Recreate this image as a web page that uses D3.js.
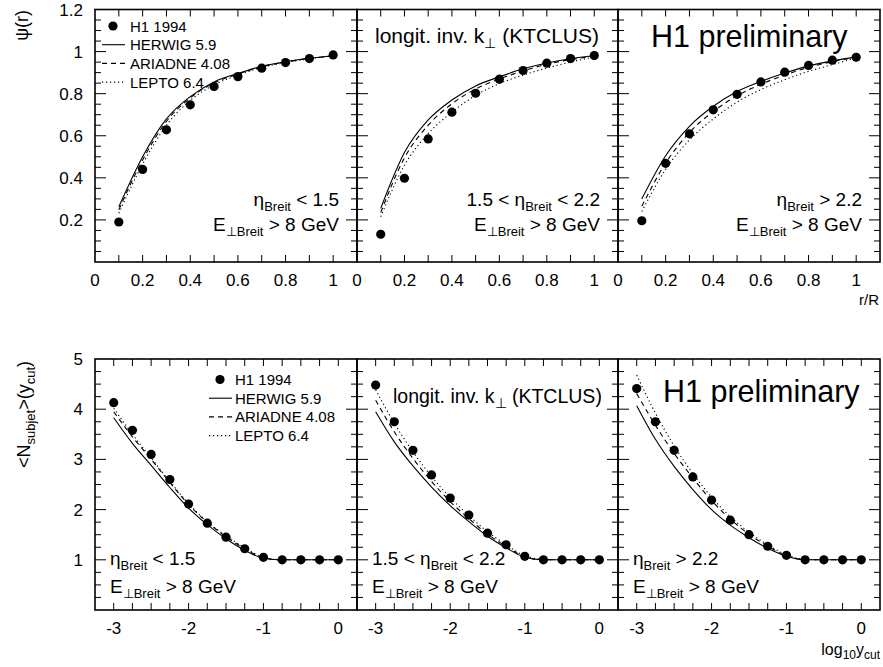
<!DOCTYPE html>
<html>
<head>
<meta charset="utf-8">
<script src="https://cdn.jsdelivr.net/npm/d3@7"></script>
<style>
  body { margin: 0; background: #fff; }
  svg { font-family: "Liberation Sans", Arial, sans-serif; }
</style>
</head>
<body>
<svg id="chart" width="883" height="667"></svg>
<script>
// r/R points and log10(ycut) points
const rValues = [0.1, 0.2, 0.3, 0.4, 0.5, 0.6, 0.7, 0.8, 0.9, 1.0];
const yCutValues = [-3, -2.75, -2.5, -2.25, -2, -1.75, -1.5, -1.25, -1, -0.75, -0.5, -0.25, 0];

// psi(r), three eta bins
const psiData = [
  [0.19, 0.44, 0.628, 0.747, 0.834, 0.881, 0.921, 0.948, 0.967, 0.984],
  [0.132, 0.398, 0.585, 0.712, 0.802, 0.869, 0.91, 0.945, 0.967, 0.981],
  [0.196, 0.469, 0.609, 0.723, 0.797, 0.856, 0.902, 0.934, 0.959, 0.973]
];
const psiHerwig = [
  [0.262, 0.50, 0.68, 0.786, 0.856, 0.896, 0.93, 0.952, 0.968, 0.98],
  [0.255, 0.52, 0.675, 0.77, 0.837, 0.88, 0.918, 0.946, 0.966, 0.98],
  [0.30, 0.505, 0.645, 0.74, 0.81, 0.858, 0.898, 0.932, 0.956, 0.975]
];
const psiAriadne = [
  [0.248, 0.485, 0.668, 0.78, 0.851, 0.893, 0.928, 0.95, 0.967, 0.98],
  [0.235, 0.495, 0.65, 0.752, 0.822, 0.87, 0.908, 0.94, 0.962, 0.978],
  [0.265, 0.47, 0.615, 0.715, 0.79, 0.845, 0.888, 0.925, 0.952, 0.973]
];
const psiLepto = [
  [0.232, 0.465, 0.65, 0.768, 0.842, 0.888, 0.924, 0.948, 0.966, 0.979],
  [0.215, 0.46, 0.61, 0.712, 0.792, 0.848, 0.888, 0.922, 0.95, 0.975],
  [0.24, 0.44, 0.58, 0.68, 0.76, 0.82, 0.866, 0.906, 0.938, 0.97]
];

// <N_subjet>(ycut), three eta bins
const nsubData = [
  [4.13, 3.58, 3.10, 2.60, 2.11, 1.73, 1.45, 1.22, 1.05, 1.0, 1.0, 1.0, 1.0],
  [4.48, 3.75, 3.18, 2.69, 2.23, 1.89, 1.53, 1.30, 1.07, 1.0, 1.0, 1.0, 1.0],
  [4.41, 3.75, 3.18, 2.65, 2.19, 1.79, 1.50, 1.27, 1.09, 1.0, 1.0, 1.0, 1.0]
];
const nsubHerwig = [
  [3.83, 3.32, 2.88, 2.44, 2.03, 1.70, 1.42, 1.19, 1.03, 1.0, 1.0, 1.0, 1.0],
  [3.95, 3.35, 2.87, 2.45, 2.08, 1.76, 1.47, 1.24, 1.05, 1.0, 1.0, 1.0, 1.0],
  [4.07, 3.40, 2.86, 2.40, 2.0, 1.69, 1.44, 1.23, 1.07, 1.0, 1.0, 1.0, 1.0]
];
const nsubAriadne = [
  [3.95, 3.45, 3.0, 2.54, 2.1, 1.75, 1.46, 1.22, 1.04, 1.0, 1.0, 1.0, 1.0],
  [4.18, 3.55, 3.02, 2.56, 2.16, 1.82, 1.51, 1.27, 1.06, 1.0, 1.0, 1.0, 1.0],
  [4.31, 3.68, 3.12, 2.63, 2.18, 1.81, 1.51, 1.27, 1.08, 1.0, 1.0, 1.0, 1.0]
];
const nsubLepto = [
  [4.02, 3.50, 3.03, 2.56, 2.12, 1.76, 1.48, 1.24, 1.05, 1.0, 1.0, 1.0, 1.0],
  [4.39, 3.72, 3.15, 2.66, 2.24, 1.88, 1.56, 1.30, 1.08, 1.01, 1.0, 1.0, 1.0],
  [4.68, 3.92, 3.27, 2.72, 2.25, 1.86, 1.55, 1.30, 1.10, 1.01, 1.0, 1.0, 1.0]
];

const legendLabels = ["H1 1994", "HERWIG 5.9", "ARIADNE 4.08", "LEPTO 6.4"];
const etaCuts = [
  [{ t: "η" }, { t: "Breit", sub: true }, { t: " < 1.5" }],
  [{ t: "1.5 < η" }, { t: "Breit", sub: true }, { t: " < 2.2" }],
  [{ t: "η" }, { t: "Breit", sub: true }, { t: " > 2.2" }]
];
const etCut = [{ t: "E" }, { t: "⊥Breit", sub: true }, { t: " > 8 GeV" }];
const algoLabel = [{ t: "longit. inv. k" }, { t: "⊥", sub: true }, { t: " (KTCLUS)" }];

const psiTicks = [0.2, 0.4, 0.6, 0.8, 1, 1.2];
const rTicks = [0, 0.2, 0.4, 0.6, 0.8, 1];
const nsubTicks = [1, 2, 3, 4, 5];
const yCutTicks = [-3, -2, -1, 0];

const svg = d3.select("#chart");
const panelX = [95, 357, 618, 880];
const mcStyles = [
  { dash: null },
  { dash: "5,4" },
  { dash: "1.2,2.8" }
];

// text with subscript runs
function richText(sel, parts, size, subSize) {
  const shift = size * 0.25;
  let lowered = false;
  parts.forEach(p => {
    const ts = sel.append("tspan").text(p.t);
    if (p.sub) {
      ts.attr("font-size", subSize).attr("dy", lowered ? 0 : shift);
      lowered = true;
    } else {
      ts.attr("font-size", size).attr("dy", lowered ? -shift : 0);
      lowered = false;
    }
  });
  return sel;
}

function drawPanel(i, row) {
  const top = row === 0;
  const x0 = panelX[i], x1 = panelX[i + 1];
  const yTop = top ? 9.5 : 359, yBot = top ? 262 : 610;

  const x = top
    ? d3.scaleLinear().domain([0, 1.1]).range([x0, x1])
    : d3.scaleLinear().domain([-3.25, 0.25]).range([x0, x1]);
  const y = top
    ? d3.scaleLinear().domain([0, 1.2]).range([yBot, yTop])
    : d3.scaleLinear().domain([0, 5]).range([yBot, yTop]);

  const g = svg.append("g");

  // tick marks on all four sides, pointing inward
  const xMinor = top ? d3.range(0.1, 1.05, 0.1) : d3.range(-3, 0.01, 0.25);
  const yMajor = top ? psiTicks : nsubTicks;
  const yMinor = top ? d3.range(0.05, 1.2, 0.05) : d3.range(0.25, 5, 0.25);

  xMinor.forEach(v => {
    g.append("line").attr("x1", x(v)).attr("x2", x(v))
      .attr("y1", yBot).attr("y2", yBot - 7).attr("stroke", "#000");
    g.append("line").attr("x1", x(v)).attr("x2", x(v))
      .attr("y1", yTop).attr("y2", yTop + 7).attr("stroke", "#000");
  });
  yMinor.forEach(v => {
    const major = yMajor.some(m => Math.abs(m - v) < 1e-6);
    const len = major ? 11 : 6;
    g.append("line").attr("x1", x0).attr("x2", x0 + len)
      .attr("y1", y(v)).attr("y2", y(v)).attr("stroke", "#000");
    g.append("line").attr("x1", x1).attr("x2", x1 - len)
      .attr("y1", y(v)).attr("y2", y(v)).attr("stroke", "#000");
  });

  g.append("rect")
    .attr("x", x0).attr("y", yTop)
    .attr("width", x1 - x0).attr("height", yBot - yTop)
    .attr("fill", "none").attr("stroke", "#000").attr("stroke-width", 1.6);

  // x tick labels
  const xLab = top ? rTicks : yCutTicks;
  g.selectAll(".xl").data(xLab).join("text")
    .attr("x", d => x(d)).attr("y", yBot + 24)
    .attr("text-anchor", "middle").attr("font-size", 17)
    .text(d => top ? d3.format("~g")(d) : d);

  if (i === 0) {
    g.selectAll(".yl").data(yMajor).join("text")
      .attr("x", 83).attr("y", d => y(d) + 6)
      .attr("text-anchor", "end").attr("font-size", 17)
      .text(d => d);
  }

  const xs = top ? rValues : yCutValues;
  const data = top ? psiData[i] : nsubData[i];
  const mcs = top ? [psiHerwig[i], psiAriadne[i], psiLepto[i]]
                  : [nsubHerwig[i], nsubAriadne[i], nsubLepto[i]];

  const line = d3.line()
    .x(d => x(d[0])).y(d => y(d[1]))
    .curve(d3.curveMonotoneX);

  mcs.forEach((vals, k) => {
    g.append("path")
      .attr("d", line(xs.map((v, j) => [v, vals[j]])))
      .attr("fill", "none").attr("stroke", "#000").attr("stroke-width", 1.1)
      .attr("stroke-dasharray", mcStyles[k].dash);
  });

  g.selectAll(".pt").data(xs.map((v, j) => [v, data[j]])).join("circle")
    .attr("cx", d => x(d[0])).attr("cy", d => y(d[1])).attr("r", 4.6)
    .attr("fill", "#000");

  // cut labels
  if (top) {
    richText(g.append("text").attr("x", x1 - 18).attr("y", 206).attr("text-anchor", "end"),
      etaCuts[i], 19, 13);
    richText(g.append("text").attr("x", x1 - 18).attr("y", 231).attr("text-anchor", "end"),
      etCut, 19, 13);
  } else {
    richText(g.append("text").attr("x", x0 + 15).attr("y", 565),
      etaCuts[i], 19, 13);
    richText(g.append("text").attr("x", x0 + 15).attr("y", 593),
      etCut, 19, 13);
  }

  if (i === 1) {
    const t = g.append("text").attr("x", top ? 375 : 393).attr("y", top ? 43 : 403);
    richText(t, algoLabel, top ? 21 : 19.5, 14);
  }
  if (i === 2) {
    g.append("text").attr("x", top ? 651 : 663).attr("y", top ? 47 : 402)
      .attr("font-size", 30.5).text("H1 preliminary");
  }

  if (i === 0) {
    const lx = top ? 130 : 235;
    const sx = top ? 113 : 220;
    const base = top ? 31.5 : 385;
    const step = 18.7;
    legendLabels.forEach((lab, k) => {
      const yy = base + k * step;
      g.append("text").attr("x", lx).attr("y", yy).attr("font-size", 15).text(lab);
      if (k === 0) {
        g.append("circle").attr("cx", sx).attr("cy", yy - 5.5).attr("r", 4.6).attr("fill", "#000");
      } else {
        g.append("line").attr("x1", sx - 11).attr("x2", sx + 12)
          .attr("y1", yy - 5.5).attr("y2", yy - 5.5)
          .attr("stroke", "#000").attr("stroke-width", 1.1)
          .attr("stroke-dasharray", mcStyles[k - 1].dash);
      }
    });
  }
}

[0, 1, 2].forEach(i => { drawPanel(i, 0); drawPanel(i, 1); });

// axis titles
svg.append("text")
  .attr("transform", "translate(28,10) rotate(-90)")
  .attr("text-anchor", "end").attr("font-size", 18)
  .text("ψ(r)");

svg.append("text")
  .attr("x", 879).attr("y", 305).attr("text-anchor", "end")
  .attr("font-size", 15).text("r/R");

const yt = svg.append("text")
  .attr("transform", "translate(30,361) rotate(-90)")
  .attr("text-anchor", "end");
richText(yt, [{ t: "<N" }, { t: "subjet", sub: true }, { t: ">(y" }, { t: "cut", sub: true }, { t: ")" }], 18, 13);

const xt = svg.append("text")
  .attr("x", 880).attr("y", 655).attr("text-anchor", "end");
richText(xt, [{ t: "log" }, { t: "10", sub: true }, { t: "y" }, { t: "cut", sub: true }], 16, 12);
</script>
</body>
</html>
